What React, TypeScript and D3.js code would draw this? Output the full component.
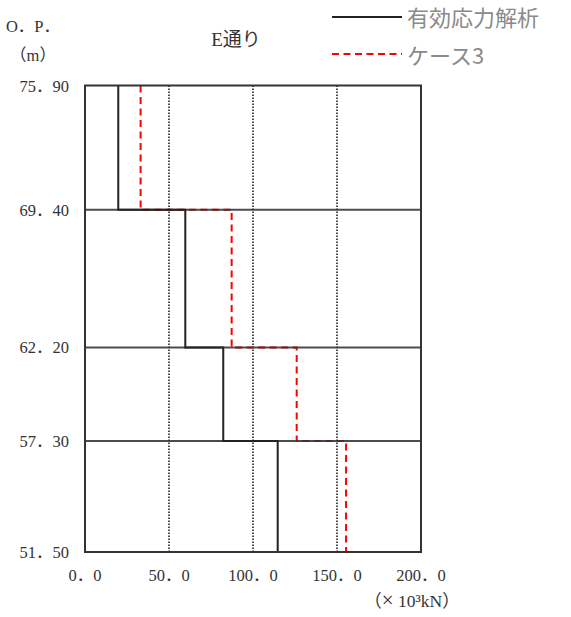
import React from "react";
import * as d3 from "d3";

// Storey boundaries (O.P., m), top to bottom
const levels = [75.9, 69.4, 62.2, 57.3, 51.5];
// Shear force per storey (×10^3 kN)
const effectiveStress = [19.8, 59.7, 82.3, 114.7];
const case3 = [33.1, 87.3, 126.0, 155.4];
const xTicks = [0, 50, 100, 150, 200];
const gridX = [50, 100, 150];
const legendLabels = ["有効応力解析", "ケース3"];

const W = 571;
const H = 617;
const margin = { left: 85, right: 150, top: 85.5, bottom: 65 };

const serif = "'Liberation Serif', 'Noto Sans CJK JP', serif";
const cjk = "'Noto Sans CJK JP', 'Liberation Serif', sans-serif";

export default function App() {
  const x = d3.scaleLinear().domain([0, 200]).range([margin.left, W - margin.right]);
  const y = d3
    .scaleLinear()
    .domain([d3.min(levels)!, d3.max(levels)!])
    .range([H - margin.bottom, margin.top]);

  const stepPoints = (vals: number[]) => {
    const pts: [number, number][] = [];
    vals.forEach((v, i) => {
      pts.push([v, levels[i]]);
      pts.push([v, levels[i + 1]]);
    });
    return pts;
  };
  const line = d3
    .line<[number, number]>()
    .x((d) => x(d[0]))
    .y((d) => y(d[1]));

  const fmtY = (v: number) => d3.format(".2f")(v).replace(".", "．");
  const fmtX = (v: number) => d3.format(".1f")(v).replace(".", "．");

  const [x0, x1] = x.range();
  const [yb, yt] = y.range();

  return (
    <svg
      width={W}
      height={H}
      style={{ position: "absolute", left: 0, top: 0, background: "#fff" }}
    >
      {/* dotted vertical guides */}
      {gridX.map((g) => (
        <line
          key={g}
          x1={x(g)}
          x2={x(g)}
          y1={yt}
          y2={yb}
          stroke="#000"
          strokeWidth={1.4}
          strokeDasharray="1.5,1.5"
        />
      ))}

      {/* case 3 step line */}
      <path
        d={line(stepPoints(case3))!}
        fill="none"
        stroke="#ff0000"
        strokeWidth={2}
        strokeDasharray="7,4.5"
      />

      {/* storey boundaries */}
      {levels.slice(1, -1).map((l) => (
        <line
          key={l}
          x1={x0}
          x2={x1}
          y1={y(l)}
          y2={y(l)}
          stroke="#333"
          strokeOpacity={0.88}
          strokeWidth={2}
        />
      ))}

      {/* effective stress analysis step line */}
      <path
        d={line(stepPoints(effectiveStress))!}
        fill="none"
        stroke="#222"
        strokeWidth={2}
      />

      {/* frame */}
      <rect
        x={x0}
        y={yt}
        width={x1 - x0}
        height={yb - yt}
        fill="none"
        stroke="#333"
        strokeWidth={2}
      />

      {/* y tick labels */}
      {levels.map((l) => (
        <text
          key={l}
          x={69}
          y={y(l) + 6}
          textAnchor="end"
          fontFamily={serif}
          fontSize={16.5}
          fill="#333"
        >
          {fmtY(l)}
        </text>
      ))}

      {/* x tick labels */}
      {xTicks.map((t) => (
        <text
          key={t}
          x={x(t)}
          y={581}
          textAnchor="middle"
          fontFamily={serif}
          fontSize={16.5}
          fill="#333"
        >
          {fmtX(t)}
        </text>
      ))}

      <text x={412} y={607} textAnchor="middle" fontFamily={serif} fontSize={17.5} fill="#333">
        （<tspan fontSize={21}>×</tspan> 10³kN）
      </text>

      <text x={33} y={32} textAnchor="middle" fontFamily={serif} fontSize={16.5} fill="#333">
        O．P．
      </text>
      <text x={33} y={61} textAnchor="middle" fontFamily={serif} fontSize={16.5} fill="#333">
        （m）
      </text>

      <text x={236} y={46} textAnchor="middle" fontFamily={serif} fontSize={19} fill="#333">
        E通り
      </text>

      {/* legend */}
      <line x1={332} x2={402} y1={17} y2={17} stroke="#222" strokeWidth={2} />
      <text x={407} y={26} fontFamily={cjk} fontSize={22} fill="#8a8a8a">
        {legendLabels[0]}
      </text>
      <line
        x1={332}
        x2={402}
        y1={54}
        y2={54}
        stroke="#ff0000"
        strokeWidth={2}
        strokeDasharray="7,4.5"
      />
      <text x={407} y={64} fontFamily={cjk} fontSize={22} fill="#8a8a8a">
        {legendLabels[1]}
      </text>
    </svg>
  );
}
